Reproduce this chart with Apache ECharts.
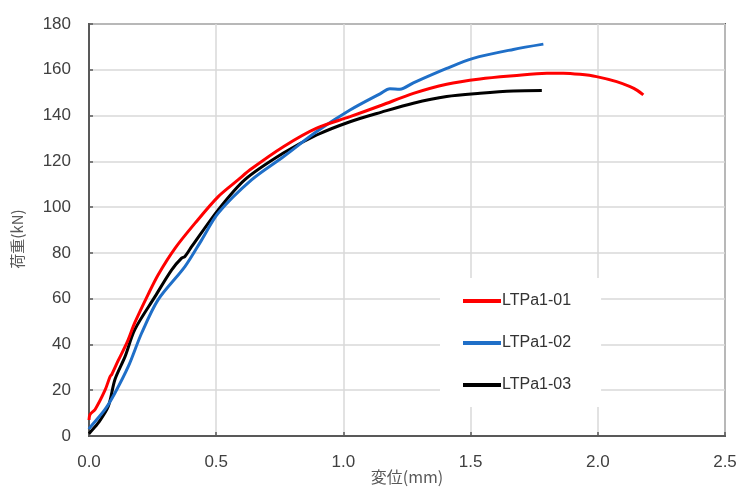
<!DOCTYPE html>
<html>
<head>
<meta charset="utf-8">
<script src="https://cdn.jsdelivr.net/npm/echarts@6/dist/echarts.min.js"></script>
<style>
  html, body { margin: 0; padding: 0; background: #fff; }
  #chart { width: 740px; height: 490px; }
</style>
</head>
<body>
<div id="chart"></div>
<script>
// 読み取り値 (変位 mm, 荷重 kN)
const seriesNames = ['LTPa1-01', 'LTPa1-02', 'LTPa1-03'];
const seriesColors = ['#ff0000', '#1f6fc8', '#000000'];

const dispA = [0, 0.004, 0.024, 0.063, 0.083, 0.09, 0.115, 0.15, 0.18, 0.233, 0.272, 0.338, 0.417, 0.508, 0.587, 0.633, 0.764, 0.895, 1.026, 1.15, 1.275, 1.406, 1.537, 1.668, 1.8, 1.864, 1.93, 1.995, 2.074, 2.127, 2.155, 2.179];
const loadA = [7, 9.4, 11.6, 20, 26, 27, 33, 41, 49.5, 62, 70.5, 82, 93, 104.6, 112, 116.3, 126.4, 134.5, 139.5, 144.5, 149.7, 153.7, 156, 157.4, 158.5, 158.5, 158, 157, 154.8, 152.6, 151, 149];

const dispB = [0, 0.004, 0.063, 0.102, 0.155, 0.207, 0.272, 0.377, 0.443, 0.508, 0.64, 0.764, 0.895, 1.026, 1.144, 1.183, 1.222, 1.275, 1.406, 1.51, 1.668, 1.786];
const loadB = [3, 3.7, 11.6, 18.8, 30.5, 45, 59.6, 74, 85.7, 97.4, 112, 122, 133, 142.4, 149.5, 151.7, 151.5, 154.3, 160.6, 165, 168.9, 171.2];

const dispC = [0, 0.004, 0.037, 0.076, 0.102, 0.142, 0.18, 0.26, 0.325, 0.364, 0.377, 0.404, 0.508, 0.613, 0.764, 0.895, 1.026, 1.15, 1.275, 1.406, 1.537, 1.668, 1.78];
const loadC = [1, 1.5, 5.8, 13, 24.7, 34.8, 46.5, 61, 72.6, 77.7, 78.4, 82.8, 98.8, 112, 123.6, 131.5, 137.3, 141.5, 145.4, 148.3, 149.7, 150.7, 150.9];

const xTicks = { min: 0, max: 2.5, interval: 0.5 };
const yTicks = { min: 0, max: 180, interval: 20 };

const pairs = (xs, ys) => xs.map((x, i) => [x, ys[i]]);
const allData = [pairs(dispA, loadA), pairs(dispB, loadB), pairs(dispC, loadC)];

const axisColor = '#595959';
const labelFont = { color: '#404040', fontSize: 17, fontFamily: 'Liberation Sans, sans-serif' };

const myChart = echarts.init(document.getElementById('chart'));

const chartsOption = {
  animation: false,
  grid: {
    left: 89,
    right: 15,
    top: 24,
    bottom: 54,
    outerBoundsMode: 'none',
    containLabel: false,
    show: true,
    borderColor: axisColor,
    borderWidth: 2
  },
  legend: {
    orient: 'vertical',
    left: 440,
    top: 278,
    backgroundColor: '#fff',
    padding: [15, 30, 14, 23],
    itemGap: 26,
    itemWidth: 38,
    itemHeight: 16,
    icon: 'path://M0,6 L38,6 L38,10 L0,10 Z',
    textStyle: { color: '#333', fontSize: 16, fontFamily: 'Liberation Sans, sans-serif', padding: [0, 0, 0, -4] },
    data: seriesNames
  },
  xAxis: {
    type: 'value',
    min: xTicks.min,
    max: xTicks.max,
    interval: xTicks.interval,
    name: '変位(mm)',
    nameLocation: 'middle',
    nameGap: 33,
    nameMoveOverlap: false,
    nameTextStyle: { color: axisColor, fontSize: 16, fontFamily: 'Noto Sans CJK JP, sans-serif' },
    axisLine: { lineStyle: { color: axisColor, width: 2 } },
    axisTick: { inside: true, length: 4, lineStyle: { color: axisColor, width: 1.5 } },
    axisLabel: Object.assign({ margin: 18, formatter: v => v.toFixed(1) }, labelFont),
    splitLine: { show: true, lineStyle: { color: '#d9d9d9', width: 1.5 } }
  },
  yAxis: {
    type: 'value',
    min: yTicks.min,
    max: yTicks.max,
    interval: yTicks.interval,
    name: '荷重(kN)',
    nameLocation: 'middle',
    nameGap: 64,
    nameTextStyle: { color: axisColor, fontSize: 15, fontFamily: 'Noto Sans CJK JP, sans-serif', padding: [0, 18, 0, 0] },
    axisLine: { show: true, lineStyle: { color: axisColor, width: 2 } },
    axisTick: { show: true, inside: true, length: 4, lineStyle: { color: axisColor, width: 1.5 } },
    axisLabel: Object.assign({ margin: 18 }, labelFont),
    splitLine: { show: true, lineStyle: { color: '#d9d9d9', width: 1.5 } }
  },
  series: seriesNames.map((name, i) => ({
    name: name,
    type: 'line',
    data: allData[i],
    showSymbol: false,
    smooth: 0.3,
    color: seriesColors[i],
    lineStyle: { width: 3, color: seriesColors[i] },
    z: 3 - i
  }))
};

myChart.setOption(chartsOption);
window.addEventListener('resize', () => {
  myChart.resize();
});
</script>
</body>
</html>
